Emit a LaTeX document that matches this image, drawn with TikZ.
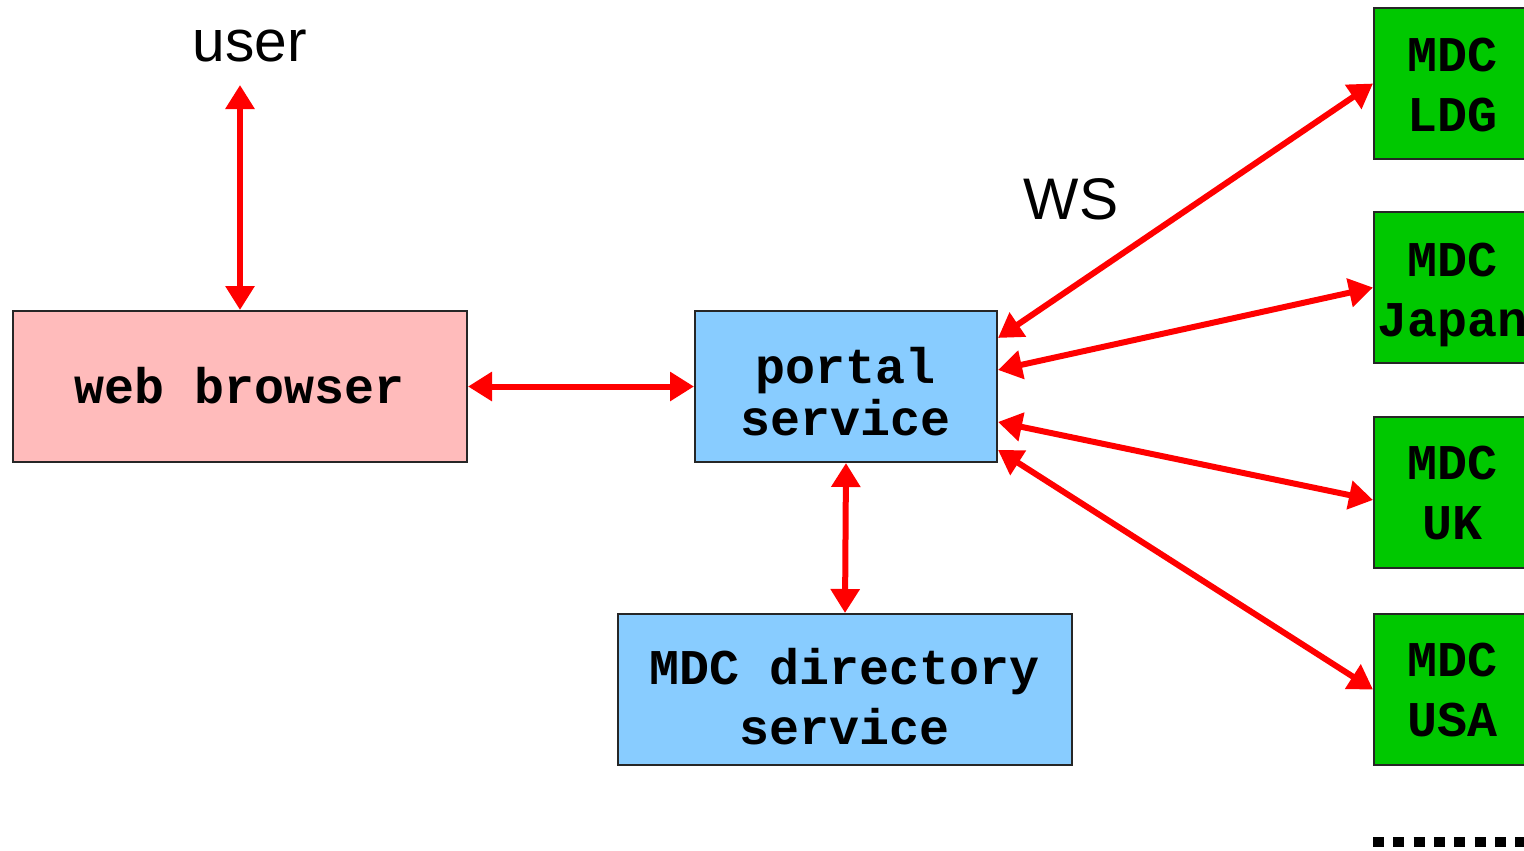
\documentclass[tikz,border=0pt]{standalone}
\usepackage{fontspec}
\setmainfont{Liberation Sans}
\newfontfamily\boxfont{Liberation Mono}
\usetikzlibrary{arrows.meta,calc}
\definecolor{browserpink}{RGB}{255,187,187}
\definecolor{serviceblue}{RGB}{136,204,255}
\definecolor{mdcgreen}{RGB}{0,200,0}
% centred box text with strut-based lines, nudged down by the optional amount
% (the box keeps its natural height and depth, so the node does not re-centre it)
\newcommand\boxtext[2][4.1pt]{\raisebox{-#1}[\height][\depth]{\begin{tabular}{@{}c@{}}#2\end{tabular}}}
\begin{document}
\begin{tikzpicture}[x=0.75pt,y=-0.75pt,
  box/.style={draw=black!85,line width=1.5pt,inner sep=0pt,
    font=\boxfont\bfseries\fontsize{37.5}{45}\selectfont},
  browser/.style={box,fill=browserpink,minimum width=340.5pt,minimum height=113.25pt},
  service/.style={box,fill=serviceblue,minimum height=113.25pt},
  mdc/.style={box,fill=mdcgreen,minimum width=117pt,minimum height=113.25pt},
  link/.style={red,line width=4.5pt,
    {Triangle[length=18pt,width=21pt]}-{Triangle[length=18pt,width=21pt]}},
  tag/.style={font=\fontsize{44}{50}\selectfont}]
\useasboundingbox (0,0) rectangle (1524,850);

% boxes
\node[browser] (browser) at (240,386.5) {\boxtext{web browser}};
\node[service,minimum width=226.5pt] (portal) at (846,386.5) {\boxtext[8.25pt]{portal\\[-6pt]service}};
\node[service,minimum width=340.5pt] (directory) at (845,689.5) {\boxtext[9.75pt]{MDC directory\\service}};
\node[mdc] (ldg)   at (1452,83.5)  {\boxtext[4.5pt]{MDC\\LDG}};
\node[mdc] (japan) at (1452,287.5) {\boxtext[5.25pt]{MDC\\Japan}};
\node[mdc] (uk)    at (1452,492.5) {\boxtext[3.75pt]{MDC\\UK}};
\node[mdc] (usa)   at (1452,689.5) {\boxtext{MDC\\USA}};

% labels
\node[tag] (user) at (250,46) {user};
\node[tag] (ws) at (1071,199) {WS};
\coordinate (userend) at (240,85);

% connectors
\draw[link] (userend) -- (browser.north);
\draw[link] (browser.east) -- (portal.west);
\draw[link] (portal.south) -- (directory.north);
\draw[link] ([yshift=36.4pt]portal.east) -- (ldg.west);
\draw[link] ([yshift=12.4pt]portal.east) -- (japan.west);
\draw[link] ([yshift=-26.6pt]portal.east) -- ([yshift=-5.6pt]uk.west);
\draw[link] ([yshift=-47.6pt]portal.east) -- (usa.west);

% continuation marks
\draw[black,line width=7.5pt,dash pattern=on 8.25pt off 7pt] (1373,841.5) -- (1524,841.5);
\end{tikzpicture}
\end{document}
